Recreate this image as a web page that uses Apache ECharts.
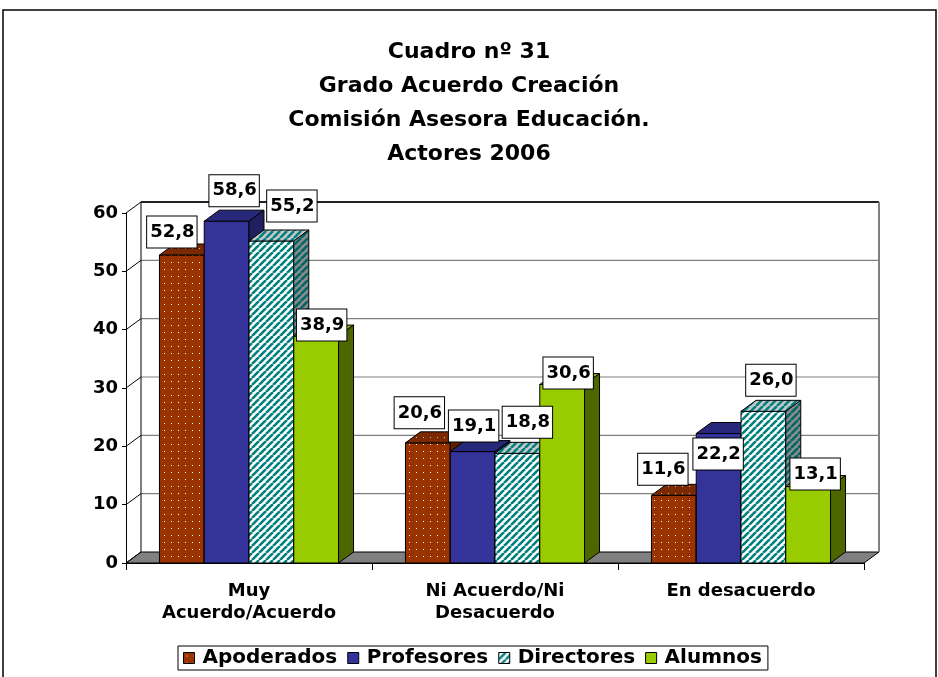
<!DOCTYPE html>
<html>
<head>
<meta charset="utf-8">
<title>Cuadro nº 31</title>
<script src="https://cdn.jsdelivr.net/npm/echarts@6/dist/echarts.min.js"></script>
<style>
  html, body { margin: 0; padding: 0; background: #fff; }
  #chart { width: 938px; height: 677px; }
</style>
</head>
<body>
<div id="chart"></div>
<script>
// ---- data ----
const categories = ['Muy\nAcuerdo/Acuerdo', 'Ni Acuerdo/Ni\nDesacuerdo', 'En desacuerdo'];
const seriesNames = ['Apoderados', 'Profesores', 'Directores', 'Alumnos'];
const apoderados = [52.8, 20.6, 11.6];
const profesores = [58.6, 19.1, 22.2];
const directores = [55.2, 18.8, 26.0];
const alumnos = [38.9, 30.6, 13.1];
const yTickValues = [0, 10, 20, 30, 40, 50, 60];
const chartTitle = 'Cuadro nº 31\nGrado Acuerdo Creación\nComisión Asesora Educación.\nActores 2006';

const allValues = [apoderados, profesores, directores, alumnos];

// ---- fills ----
const FONT = '"DejaVu Sans", Verdana, sans-serif';

function dotPattern(bg, dot) {
  const c = document.createElement('canvas');
  c.width = 7; c.height = 7;
  const g = c.getContext('2d');
  g.fillStyle = bg; g.fillRect(0, 0, 7, 7);
  g.fillStyle = dot; g.fillRect(3, 3, 1, 1);
  return { image: c, repeat: 'repeat' };
}
function stripePattern(bg, fg) {
  const s = 7;
  const c = document.createElement('canvas');
  c.width = s; c.height = s;
  const g = c.getContext('2d');
  g.fillStyle = bg; g.fillRect(0, 0, s, s);
  g.strokeStyle = fg; g.lineWidth = 2.6;
  g.beginPath();
  for (let o = -s; o <= s; o += s) { g.moveTo(o, s); g.lineTo(o + s, 0); }
  g.stroke();
  return { image: c, repeat: 'repeat' };
}

// front / top / side face fills for each series
const faces = [
  { front: dotPattern('#993300', '#ffffff'), top: dotPattern('#7a2900', '#d8b8a8'), side: '#5c1f00' },
  { front: '#333399', top: '#28287a', side: '#202060' },
  { front: stripePattern('#ffffff', '#008080'), top: stripePattern('#c8c8c8', '#008080'), side: stripePattern('#8c8c8c', '#006666') },
  { front: '#99cc00', top: '#86b300', side: '#4d6600' }
];

// depth of the 3D box in pixels
const DX = 15, DY = -11;
const BAR_FRAC = 0.182;

function barGeom(api, cat, serIdx, value) {
  const band = api.size([1, 0])[0];
  const center = api.coord([cat, 0]);
  const w = band * BAR_FRAC;
  const left = center[0] - 2 * w + serIdx * w;
  const top = api.coord([cat, value])[1];
  return { left, right: left + w, top, base: center[1], w };
}

function barSeries(idx) {
  return {
    name: seriesNames[idx],
    type: 'custom',
    coordinateSystem: 'cartesian2d',
    z: 2,
    itemStyle: { color: faces[idx].front, borderColor: '#000', borderWidth: 1 },
    data: allValues[idx].map((v, i) => [i, v]),
    renderItem: function (params, api) {
      const cat = api.value(0), val = api.value(1);
      const b = barGeom(api, cat, idx, val);
      const st = { stroke: '#000', lineWidth: 1 };
      return {
        type: 'group',
        children: [
          { type: 'rect', shape: { x: b.left, y: b.top, width: b.w, height: b.base - b.top },
            style: Object.assign({ fill: faces[idx].front }, st) },
          { type: 'polygon', shape: { points: [[b.left, b.top], [b.right, b.top], [b.right + DX, b.top + DY], [b.left + DX, b.top + DY]] },
            style: Object.assign({ fill: faces[idx].top }, st) },
          { type: 'polygon', shape: { points: [[b.right, b.top], [b.right + DX, b.top + DY], [b.right + DX, b.base + DY], [b.right, b.base]] },
            style: Object.assign({ fill: faces[idx].side }, st) }
        ]
      };
    }
  };
}

// walls, floor and gridlines of the 3D box
const wallSeries = {
  type: 'custom',
  coordinateSystem: 'cartesian2d',
  silent: true,
  z: 1,
  data: [[0, 0]],
  renderItem: function (params, api) {
    const cs = params.coordSys;
    const x0 = cs.x, x1 = cs.x + cs.width;
    const y0 = api.coord([0, 0])[1];
    const yMax = api.coord([0, yTickValues[yTickValues.length - 1]])[1];
    const kids = [];
    kids.push({ type: 'polygon', shape: { points: [[x0, y0], [x1, y0], [x1 + DX, y0 + DY], [x0 + DX, y0 + DY]] },
      style: { fill: '#808080', stroke: '#000', lineWidth: 1 } });
    yTickValues.forEach(function (v, k) {
      const y = api.coord([0, v])[1];
      const last = k === yTickValues.length - 1;
      if (v !== 0) {
        kids.push({ type: 'line', shape: { x1: x0 + DX, y1: y + DY, x2: x1 + DX, y2: y + DY },
          style: { stroke: last ? '#222' : '#808080', lineWidth: last ? 2 : 1.2 } });
      }
      kids.push({ type: 'line', shape: { x1: x0, y1: y, x2: x0 + DX, y2: y + DY },
        style: { stroke: '#000', lineWidth: 1 } });
    });
    kids.push({ type: 'line', shape: { x1: x0 + DX, y1: yMax + DY, x2: x0 + DX, y2: y0 + DY },
      style: { stroke: '#000', lineWidth: 1 } });
    kids.push({ type: 'line', shape: { x1: x1 + DX, y1: yMax + DY, x2: x1 + DX, y2: y0 + DY },
      style: { stroke: '#808080', lineWidth: 2 } });
    return { type: 'group', children: kids };
  }
};

// value boxes: nudges (px) from the centre of each bar's front top edge
const labelNudge = [
  [[-10, -23], [-8.5, -30], [-11, -26]],
  [[7.5, -30.5], [1, -25.6], [-0.5, 20.5]],
  [[20.5, -35], [10, -31], [7.5, -31]],
  [[5.5, -11], [6, -11.5], [7, -12.6]]
];
const labelData = [];
allValues.forEach((arr, s) => arr.forEach((v, i) => labelData.push([i, v, s])));

const labelSeries = {
  type: 'custom',
  coordinateSystem: 'cartesian2d',
  silent: true,
  z: 6,
  data: labelData,
  renderItem: function (params, api) {
    const cat = api.value(0), val = api.value(1), s = api.value(2);
    const b = barGeom(api, cat, s, val);
    const n = labelNudge[s][cat];
    return {
      type: 'text',
      x: (b.left + b.right) / 2 + n[0],
      y: b.top + n[1],
      style: {
        text: val.toFixed(1).replace('.', ','),
        font: 'bold 18px ' + FONT,
        fill: '#000',
        align: 'center',
        verticalAlign: 'middle',
        backgroundColor: '#fff',
        borderColor: '#000',
        borderWidth: 1,
        padding: [7, 2, 6, 3]
      }
    };
  }
};

const chart = echarts.init(document.getElementById('chart'), null, { renderer: 'canvas' });
chart.setOption({
  animation: false,
  backgroundColor: '#fff',
  title: {
    text: chartTitle,
    left: 'center',
    top: 35,
    padding: 0,
    textStyle: { fontFamily: FONT, fontWeight: 'bold', fontSize: 22, lineHeight: 34, color: '#000' }
  },
  graphic: [{
    type: 'rect', silent: true, z: -1,
    shape: { x: 3, y: 10, width: 933, height: 700 },
    style: { fill: 'none', stroke: '#000', lineWidth: 1.5 }
  }],
  legend: {
    data: seriesNames,
    left: 178,
    top: 646,
    orient: 'horizontal',
    icon: 'rect',
    itemWidth: 11,
    itemHeight: 11,
    itemGap: 10,
    padding: [2, 6, 2, 5],
    borderColor: '#000',
    borderWidth: 1,
    backgroundColor: '#fff',
    textStyle: { fontFamily: FONT, fontWeight: 'bold', fontSize: 20, color: '#000', padding: [0, 0, 0, 3] },
    itemStyle: { borderColor: '#000', borderWidth: 1 }
  },
  grid: { left: 126, right: 74, top: 213, bottom: 114, outerBoundsMode: 'none' },
  xAxis: {
    type: 'category',
    data: categories,
    z: 3,
    axisLine: { show: true, lineStyle: { color: '#000', width: 1 } },
    axisTick: { show: true, length: 7, interval: 0, lineStyle: { color: '#000' } },
    axisLabel: { fontFamily: FONT, fontWeight: 'bold', fontSize: 18, lineHeight: 22, color: '#000', margin: 17, interval: 0 },
    splitLine: { show: false }
  },
  yAxis: {
    type: 'value',
    min: 0,
    max: 60,
    interval: 10,
    z: 3,
    axisLine: { show: true, lineStyle: { color: '#000', width: 1 } },
    axisTick: { show: true, length: 4, lineStyle: { color: '#000' } },
    axisLabel: { fontFamily: FONT, fontWeight: 'bold', fontSize: 18, color: '#000', margin: 8 },
    splitLine: { show: false }
  },
  series: [wallSeries, barSeries(0), barSeries(1), barSeries(2), barSeries(3), labelSeries]
});
</script>
</body>
</html>
